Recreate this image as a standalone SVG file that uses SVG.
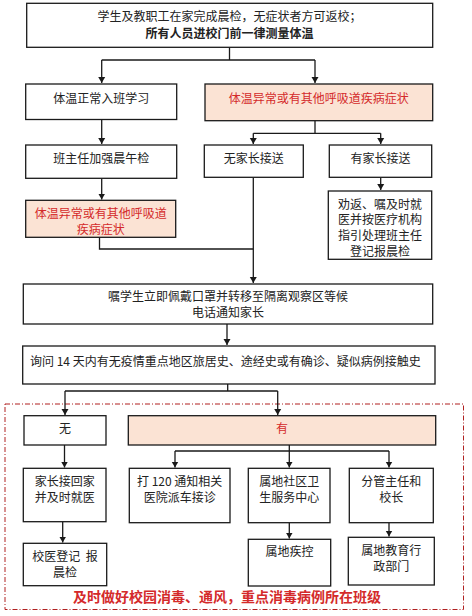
<svg xmlns="http://www.w3.org/2000/svg" width="472" height="616" viewBox="0 0 472 616">
<style>
.b{fill:#fff;stroke:#1a1a1a;stroke-width:1.3}
.r{fill:#fbe3d4;stroke:#1a1a1a;stroke-width:1.3}
text{font-family:"Noto Sans CJK SC","Noto Sans",sans-serif;font-size:12px;fill:#222;text-anchor:middle;dominant-baseline:central}
.rt{fill:#d42a2a}
.c{fill:none;stroke:#1a1a1a;stroke-width:1.3}
</style>
<defs>
<marker id="a" markerWidth="8" markerHeight="8" refX="6" refY="4" orient="auto" markerUnits="userSpaceOnUse">
<path d="M0,0.5 L6,4 L0,7.5 Z" fill="#1a1a1a"/>
</marker>
</defs>
<rect x="0" y="0" width="472" height="616" fill="#fff"/>
<rect x="5" y="404" width="458.5" height="205.5" fill="none" stroke="#b02020" stroke-width="1" stroke-dasharray="5,2,1,2"/>
<g id="connectors">
<path class="c" d="M229.5,47.5 V60 M101.7,60 H315"/>
<path class="c" d="M101.7,60 V83" marker-end="url(#a)"/>
<path class="c" d="M315,60 V83" marker-end="url(#a)"/>
<path class="c" d="M101.7,119.5 V144" marker-end="url(#a)"/>
<path class="c" d="M315,121 V133.3 M253.3,133.3 H380.7"/>
<path class="c" d="M253.3,133.3 V144" marker-end="url(#a)"/>
<path class="c" d="M380.7,133.3 V144" marker-end="url(#a)"/>
<path class="c" d="M380.7,177.5 V190" marker-end="url(#a)"/>
<path class="c" d="M101.7,178.5 V199.5" marker-end="url(#a)"/>
<path class="c" d="M99.5,237.5 V249 H253.3"/>
<path class="c" d="M253.3,177.5 V283" marker-end="url(#a)"/>
<path class="c" d="M227,324 V345" marker-end="url(#a)"/>
<path class="c" d="M227.7,384 V391 M65,391 H277.7"/>
<path class="c" d="M65,391 V415" marker-end="url(#a)"/>
<path class="c" d="M277.7,391 V415" marker-end="url(#a)"/>
<path class="c" d="M64.5,445 V467.5" marker-end="url(#a)"/>
<path class="c" d="M289.3,445 V451 M175,451 H389"/>
<path class="c" d="M175,451 V467.5" marker-end="url(#a)"/>
<path class="c" d="M289.3,451 V467.5" marker-end="url(#a)"/>
<path class="c" d="M389,451 V467.5" marker-end="url(#a)"/>
<path class="c" d="M62.7,522 V542.5" marker-end="url(#a)"/>
<path class="c" d="M289.3,523 V538.5" marker-end="url(#a)"/>
<path class="c" d="M389,523 V536.5" marker-end="url(#a)"/>
</g>
<g id="n1"><rect class="b" x="26.7" y="3.3" width="406" height="44"/>
<text x="229.5" y="15.5">学生及教职工在家完成晨检，无症状者方可返校；</text>
<text x="229.5" y="32" font-weight="bold">所有人员进校门前一律测量体温</text></g>
<g id="n2"><rect class="b" x="25.7" y="84" width="151" height="35.5"/>
<text x="101.2" y="97">体温正常入班学习</text></g>
<g id="n3"><rect class="r" x="205" y="84" width="227.7" height="36.7"/>
<text class="rt" x="318.8" y="97">体温异常或有其他呼吸道疾病症状</text></g>
<g id="n4"><rect class="b" x="25.7" y="145" width="151" height="33.3"/>
<text x="101.2" y="157">班主任加强晨午检</text></g>
<g id="n5"><rect class="b" x="204.3" y="145" width="99" height="32.3"/>
<text x="253.8" y="157">无家长接送</text></g>
<g id="n6"><rect class="b" x="329.3" y="145" width="102.4" height="32.3"/>
<text x="380.5" y="157">有家长接送</text></g>
<g id="n7"><rect class="b" x="328.3" y="191" width="103.4" height="68.3"/>
<text x="380" y="203">劝返、嘱及时就</text>
<text x="380" y="218.5">医并按医疗机构</text>
<text x="380" y="234">指引处理班主任</text>
<text x="380" y="250">登记报晨检</text></g>
<g id="n8"><rect class="r" x="25.7" y="200.3" width="150" height="37"/>
<text class="rt" x="100.7" y="212">体温异常或有其他呼吸道</text>
<text class="rt" x="100.7" y="228.5">疾病症状</text></g>
<g id="n9"><rect class="b" x="23.3" y="284" width="409.4" height="40"/>
<text x="228" y="295">嘱学生立即佩戴口罩并转移至隔离观察区等候</text>
<text x="228" y="311.5">电话通知家长</text></g>
<g id="n10"><rect class="b" x="22.7" y="346" width="412.3" height="38"/>
<text x="30" y="360.5" style="text-anchor:start">询问 14 天内有无疫情重点地区旅居史、途经史或有确诊、疑似病例接触史</text></g>
<g id="n11"><rect class="b" x="24" y="415.7" width="82" height="29.3"/>
<text x="65" y="427.5">无</text></g>
<g id="n12"><rect class="r" x="128.3" y="415.7" width="307.4" height="29.3"/>
<text class="rt" x="282" y="427.5">有</text></g>
<g id="n13"><rect class="b" x="23.3" y="468.3" width="82.7" height="53.4"/>
<text x="64.7" y="480">家长接回家</text>
<text x="64.7" y="496.5">并及时就医</text></g>
<g id="n14"><rect class="b" x="129.3" y="468.3" width="100.7" height="54.4"/>
<text x="179.7" y="480">打 120 通知相关</text>
<text x="179.7" y="496.5">医院派车接诊</text></g>
<g id="n15"><rect class="b" x="248.3" y="468.3" width="81.7" height="54.4"/>
<text x="289.2" y="480">属地社区卫</text>
<text x="289.2" y="496.5">生服务中心</text></g>
<g id="n16"><rect class="b" x="349.3" y="468.3" width="84" height="54.4"/>
<text x="391.3" y="480">分管主任和</text>
<text x="391.3" y="496.5">校长</text></g>
<g id="n17"><rect class="b" x="23.3" y="543.3" width="83.4" height="42.4"/>
<text x="65" y="555" style="white-space:pre">校医登记  报</text>
<text x="65" y="571">晨检</text></g>
<g id="n18"><rect class="b" x="248.3" y="539.3" width="82.4" height="46.7"/>
<text x="289.5" y="550.7">属地疾控</text></g>
<g id="n19"><rect class="b" x="348.3" y="537.3" width="86" height="47.7"/>
<text x="391.3" y="549.3">属地教育行</text>
<text x="391.3" y="565">政部门</text></g>
<text class="rt" x="227" y="596" font-weight="bold" style="font-size:14px">及时做好校园消毒、通风，重点消毒病例所在班级</text>
</svg>
